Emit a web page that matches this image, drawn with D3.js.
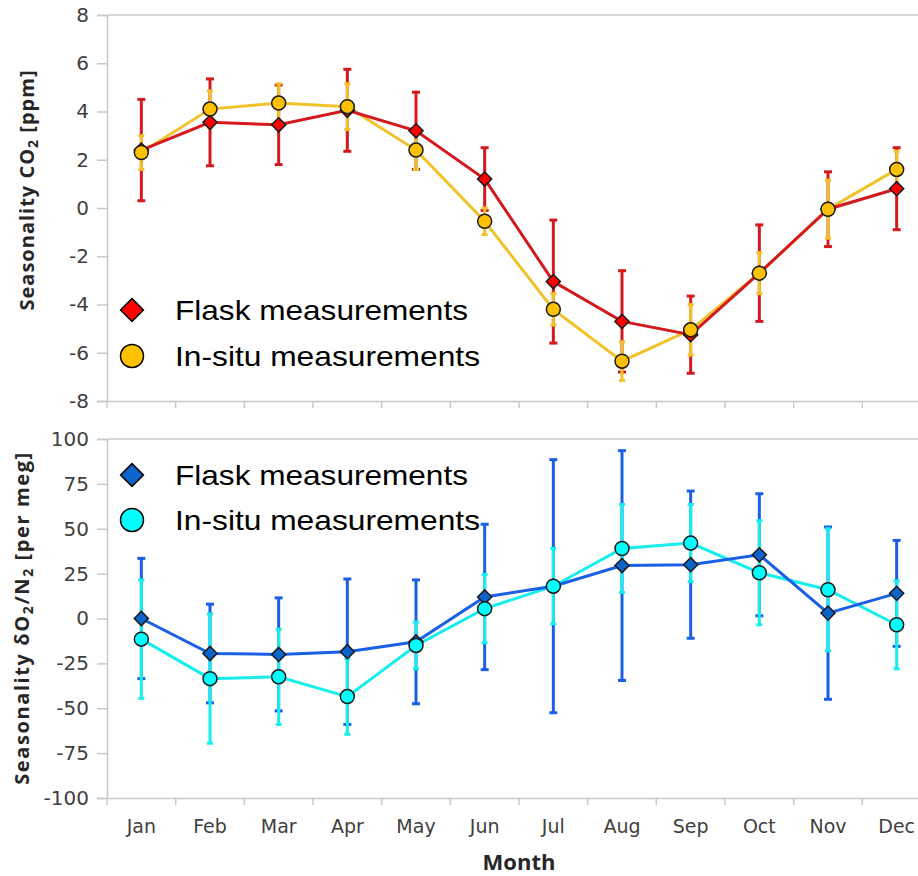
<!DOCTYPE html>
<html>
<head>
<meta charset="utf-8">
<script src="https://cdn.jsdelivr.net/npm/d3@7"></script>
<style>
  body { margin: 0; background: #fff; }
  .tick text { font-family: "DejaVu Sans", sans-serif; fill: #404040; }
</style>
</head>
<body>
<svg id="svg1" width="918" height="876"></svg>
<script>
var months = ["Jan","Feb","Mar","Apr","May","Jun","Jul","Aug","Sep","Oct","Nov","Dec"];

// CO2 seasonality [ppm]
var co2Flask    = [2.4, 3.55, 3.45, 4.05, 3.2, 1.2, -3.05, -4.7, -5.25, -2.7, -0.05, 0.8];
var co2FlaskErr = [2.1, 1.8, 1.65, 1.7, 1.6, 1.3, 2.55, 2.1, 1.6, 2.0, 1.55, 1.7];
var co2Insitu    = [2.3, 4.1, 4.35, 4.2, 2.4, -0.55, -4.2, -6.35, -5.05, -2.7, -0.05, 1.6];
var co2InsituErr = [0.7, 0.75, 0.8, 0.95, 0.8, 0.55, 0.65, 0.8, 1.05, 0.85, 1.2, 0.75];

// dO2/N2 seasonality [per meg]
var o2Flask    = [0, -19.5, -20, -18.5, -13, 12, 18, 29.5, 30, 35.5, 3, 14];
var o2FlaskErr = [33.5, 27.5, 31.5, 40.5, 34.5, 40.5, 70.5, 64, 41, 34, 48, 29.5];
var o2Insitu    = [-11.5, -33.5, -32.5, -43.5, -15, 5.5, 18, 39, 42, 25.5, 16, -3.5];
var o2InsituErr = [33, 36, 26.5, 21, 13, 19, 21, 24.5, 21.5, 29, 34, 24.5];

var co2Ticks = [-8, -6, -4, -2, 0, 2, 4, 6, 8];
var o2Ticks = [-100, -75, -50, -25, 0, 25, 50, 75, 100];

var svg = d3.select("#svg1");
var left = 107, right = 931;
var x = d3.scaleBand().domain(months).range([left, right]);

function zip(vals, errs) {
  return vals.map(function(v, i) { return {m: months[i], v: v, e: errs[i]}; });
}

function panel(opt) {
  var y = d3.scaleLinear().domain([opt.ticks[0], opt.ticks[opt.ticks.length - 1]]).range([opt.bottom, opt.top]);
  var g = svg.append("g");

  // frame top line
  g.append("line").attr("x1", left).attr("x2", 918).attr("y1", opt.top).attr("y2", opt.top)
    .attr("stroke", "#c8c8c8").attr("stroke-width", 1.5);

  var ya = g.append("g").attr("transform", "translate(" + left + ",0)")
    .call(d3.axisLeft(y).tickValues(opt.ticks).tickSize(10).tickPadding(8)
      .tickFormat(function(d) { return String(d); }));
  ya.selectAll(".tick text").attr("font-size", 20).style("font-size", "20px");
  var xa = g.append("g").attr("transform", "translate(0," + opt.bottom + ")")
    .call(d3.axisBottom(x).tickSize(0).tickPadding(opt.showX ? 22 : 0).tickFormat(opt.showX ? null : ""));
  xa.selectAll(".tick text").attr("font-size", 19).style("font-size", "19px");
  // band boundary ticks
  xa.selectAll(".bound").data(months).enter().append("line")
    .attr("x1", function(d) { return x(d); }).attr("x2", function(d) { return x(d); })
    .attr("y1", 0).attr("y2", 7);
  g.selectAll(".domain, .tick line").attr("stroke", "#c8c8c8").attr("stroke-width", 1.5);
  xa.selectAll("line").attr("stroke", "#c8c8c8").attr("stroke-width", 1.5);

  var cx = function(d) { return x(d.m) + x.bandwidth() / 2; };

  function errBars(data, color, cap) {
    var eb = g.append("g").selectAll("g").data(data).enter().append("g")
      .attr("stroke", color).attr("stroke-width", 3);
    eb.append("line").attr("x1", cx).attr("x2", cx)
      .attr("y1", function(d) { return y(d.v + d.e); }).attr("y2", function(d) { return y(d.v - d.e); });
    [1, -1].forEach(function(s) {
      eb.append("line")
        .attr("x1", function(d) { return cx(d) - cap; }).attr("x2", function(d) { return cx(d) + cap; })
        .attr("y1", function(d) { return y(d.v + s * d.e); }).attr("y2", function(d) { return y(d.v + s * d.e); });
    });
  }
  function line(data, color) {
    g.append("path").datum(data)
      .attr("fill", "none").attr("stroke", color).attr("stroke-width", 3)
      .attr("d", d3.line().x(cx).y(function(d) { return y(d.v); }));
  }

  var flask = zip(opt.flask, opt.flaskErr), insitu = zip(opt.insitu, opt.insituErr);
  errBars(flask, opt.cFlaskLine, 4);
  errBars(insitu, opt.cInsituLine, 3);
  line(insitu, opt.cInsituLine);
  line(flask, opt.cFlaskLine);

  g.append("g").selectAll("path").data(flask).enter().append("path")
    .attr("d", d3.symbol().type(d3.symbolSquare).size(100))
    .attr("transform", function(d) { return "translate(" + cx(d) + "," + y(d.v) + ") rotate(45)"; })
    .attr("fill", opt.cFlask).attr("stroke", "#1a1a1a").attr("stroke-width", 1.5);
  g.append("g").selectAll("circle").data(insitu).enter().append("circle")
    .attr("cx", cx).attr("cy", function(d) { return y(d.v); }).attr("r", 7)
    .attr("fill", opt.cInsitu).attr("stroke", "#1a1a1a").attr("stroke-width", 1.5);

  // legend
  var lg = g.append("g");
  lg.append("path").attr("d", d3.symbol().type(d3.symbolSquare).size(260))
    .attr("transform", "translate(132," + opt.legY + ") rotate(45)")
    .attr("fill", opt.cFlask).attr("stroke", "#000").attr("stroke-width", 1.5);
  lg.append("circle").attr("cx", 132).attr("cy", opt.legY + opt.legGap).attr("r", 11.5)
    .attr("fill", opt.cInsitu).attr("stroke", "#000").attr("stroke-width", 1.5);
  lg.selectAll("text").data(["Flask measurements", "In-situ measurements"]).enter().append("text")
    .attr("x", 175).attr("y", function(d, i) { return opt.legY + 10 + i * opt.legGap; })
    .attr("textLength", function(d, i) { return i ? 305 : 293; })
    .attr("lengthAdjust", "spacingAndGlyphs")
    .style("font-family", "'Liberation Sans', Arial, sans-serif").style("font-size", "28px")
    .text(function(d) { return d; });

  // y title
  var t = g.append("text")
    .attr("transform", "translate(" + opt.titleX + "," + opt.titleY + ") rotate(-90)")
    .attr("text-anchor", "middle")
    .style("font-family", "'Open Sans', sans-serif").style("font-weight", "bold").style("font-size", "20px")
    .style("letter-spacing", opt.titleSpacing + "px")
    .attr("fill", "#262626");
  opt.title.forEach(function(p) {
    var s = t.append("tspan").text(p[0]);
    if (p[1]) s.attr("baseline-shift", "-25%").style("font-size", "14px");
  });
}

panel({
  top: 15, bottom: 401, ticks: co2Ticks, showX: false,
  flask: co2Flask, flaskErr: co2FlaskErr, insitu: co2Insitu, insituErr: co2InsituErr,
  cFlask: "#ff0000", cFlaskLine: "#d41a1f", cInsitu: "#ffc000", cInsituLine: "#f2c22a",
  legY: 310, legGap: 46, titleX: 34, titleY: 190, titleSpacing: 1,
  title: [["Seasonality CO"], ["2", true], [" [ppm]"]]
});

// white background for lower panel so top x ticks are cut
svg.append("rect").attr("x", 0).attr("y", 412).attr("width", 918).attr("height", 464).attr("fill", "#fff");

panel({
  top: 439, bottom: 798, ticks: o2Ticks, showX: true,
  flask: o2Flask, flaskErr: o2FlaskErr, insitu: o2Insitu, insituErr: o2InsituErr,
  cFlask: "#0a64cc", cFlaskLine: "#1a5fe6", cInsitu: "#00ffff", cInsituLine: "#16eeee",
  legY: 475, legGap: 45, titleX: 29, titleY: 618, titleSpacing: 1.6,
  title: [["Seasonality \u03b4O"], ["2", true], ["/N"], ["2", true], ["  [per meg]"]]
});

svg.append("text").attr("x", 519).attr("y", 870).attr("text-anchor", "middle")
  .style("font-family", "'Open Sans', sans-serif").style("font-weight", "bold").style("font-size", "22px")
  .attr("fill", "#262626").text("Month");
</script>
</body>
</html>
